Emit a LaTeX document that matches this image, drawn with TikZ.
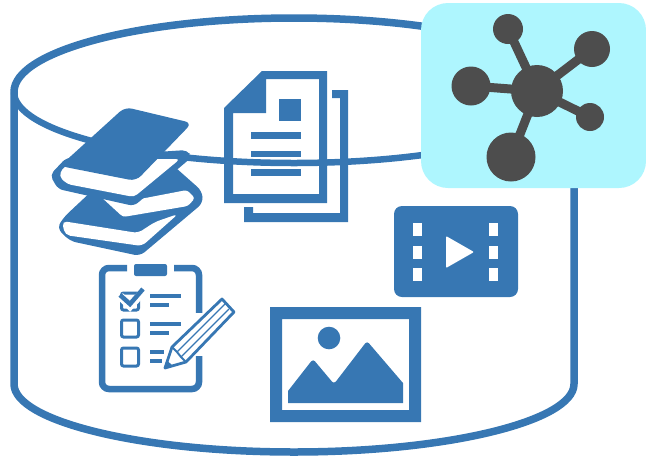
\documentclass[tikz,border=0pt]{standalone}
\definecolor{blu}{HTML}{3777B3}
\definecolor{cya}{HTML}{AEF6FE}
\definecolor{drk}{HTML}{4D4D4D}
\tikzset{
  cyl/.style={draw=blu,line width=7.5pt},
  hub/.style={circle,fill=drk,draw=none,inner sep=0pt},
  spoke/.style={draw=drk,line width=9pt}
}
\begin{document}
\begin{tikzpicture}[x=1pt,y=-1pt]
\useasboundingbox (0,0) rectangle (646,456);
% cylinder
\draw[cyl] (14,92) .. controls (14,51) and (140,18) .. (294,18) .. controls (448,18) and (574,51) .. (574,92) -- (574,384)
  .. controls (574,421) and (448,452) .. (294,452) .. controls (140,452) and (14,421) .. (14,384) -- cycle;
\draw[blu,line width=6.5pt] (14,92) .. controls (14,131) and (140,163) .. (294,163) .. controls (448,163) and (574,131) .. (574,92);
% cyan box
\node[fill=cya,rounded corners=27pt,minimum width=225pt,minimum height=185pt,inner sep=0pt] (box) at (533.5,95.5) {};
% network
\foreach \n/\x/\y in {a/508/29,b/592/49,l/471/86,r/590/117,d/511/157} \coordinate (p\n) at (\x,\y);
\node[hub,minimum size=52pt] (c) at (537,91) {};
\foreach \n in {a,b,l,r,d} \draw[spoke] (c.center) -- (p\n);
\node[hub,minimum size=30pt] (a) at (pa) {};
\node[hub,minimum size=36pt] (b) at (pb) {};
\node[hub,minimum size=39pt] (l) at (pl) {};
\node[hub,minimum size=28pt] (r) at (pr) {};
\node[hub,minimum size=49pt] (d) at (pd) {};
% lower book
\fill[blu,rounded corners=6pt] (95,188) -- (135,195) -- (167,160) -- (202,191) -- (203,203) -- (140,256) -- (70,241) -- (57,228) -- (64,217) -- cycle;
\fill[white,rounded corners=3pt] (99,195) -- (135,200) -- (187,190) -- (195,198) -- (188,206) -- (123,217) -- cycle;
\fill[white,rounded corners=5pt] (62,221) -- (138,233) -- (155,222) -- (178,214) -- (142,246) -- (65,235) -- cycle;
% upper book
\fill[blu,rounded corners=5pt] (66,158) -- (50,175) -- (58,189) -- (134,206) -- (192,157) -- (187,150) -- cycle;
\fill[white,rounded corners=4pt] (64,166) -- (59,176) -- (67,184) -- (134,197) -- (180,159) -- (150,159) -- (135,178) -- cycle;
\fill[blu,rounded corners=7pt] (125,107) -- (192,123) -- (136,181) -- (60,166) -- cycle;
% document
\fill[blu,even odd rule] (262,71) -- (327,71) -- (327,203) -- (224,203) -- (224,108) -- cycle
  (233,113) -- (233,194) -- (319,194) -- (319,79) -- (266,79) -- (266,113) -- cycle;
\fill[blu] (279,99) rectangle (301,121);
\fill[blu] (251,132) rectangle (301,139);
\fill[blu] (251,151) rectangle (301,157);
\fill[blu] (251,169) rectangle (301,176);
\fill[blu] (332,90) -- (348,90) -- (348,222) -- (244,222) -- (244,207) -- (253,207) -- (253,213) -- (340,213) -- (340,98) -- (332,98) -- cycle;
% clipboard
\draw[blu,line width=6.5pt,rounded corners=7pt] (127,268) -- (102,268) -- (102,389) -- (199,389) -- (199,268) -- (174,268);
\fill[white] (195,313) rectangle (204,356);
\fill[blu,rounded corners=2pt] (134,264) rectangle (167,276);
\draw[blu,line width=3pt,rounded corners=2pt] (121.5,293) rectangle (138.5,310);
\draw[blu,line width=3pt,rounded corners=2pt] (121.5,320) rectangle (138.5,337);
\draw[blu,line width=3pt,rounded corners=2pt] (121.5,348) rectangle (138.5,366);
\draw[white,line width=8pt] (120,296) -- (130,306) -- (145,290);
\draw[blu,line width=4.5pt] (120,295) -- (130,304) -- (143,289);
\foreach \y in {296,324} \draw[blu,line width=3.8pt] (150,\y) -- (181,\y);
\foreach \y in {305,333} \draw[blu,line width=3.8pt] (150,\y) -- (169,\y);
\draw[blu,line width=3.8pt] (150,352) -- (164,352);
\draw[blu,line width=3.8pt] (150,361) -- (162,361);
% pencil
\fill[white] (222,298) -- (235,312) -- (186,362) -- (164,369) -- (172,347) -- cycle;
\draw[blu,line width=2.8pt,line join=round] (222,299) -- (234,312) -- (186,362) -- (165,368) -- (172,347) -- cycle;
\draw[blu,line width=1.4pt] (225,304) -- (177,352) (229,309) -- (181,357);
\draw[blu,line width=2pt] (172,347) -- (177,352) -- (181,357) -- (186,362);
\fill[blu] (164,369) -- (166.5,360) -- (173,366) -- cycle;
% picture
\fill[blu,even odd rule] (270,307) rectangle (421,422) (282,319) rectangle (409,410);
\fill[blu] (329,338) circle (11.3pt);
\fill[blu] (288,403) -- (288,391) [rounded corners=3pt] -- (313,359) -- (334,384) -- (367,341) [sharp corners] -- (403,383) -- (403,403) -- cycle;
% film
\fill[blu,rounded corners=8pt] (394,206) rectangle (518,297);
\foreach \x in {413,489} \foreach \y in {223,246,268} \fill[white] (\x,\y) rectangle ++(9,12.5);
\fill[white,rounded corners=1pt] (446,236) -- (474,252) -- (446,268) -- cycle;
\end{tikzpicture}
\end{document}
